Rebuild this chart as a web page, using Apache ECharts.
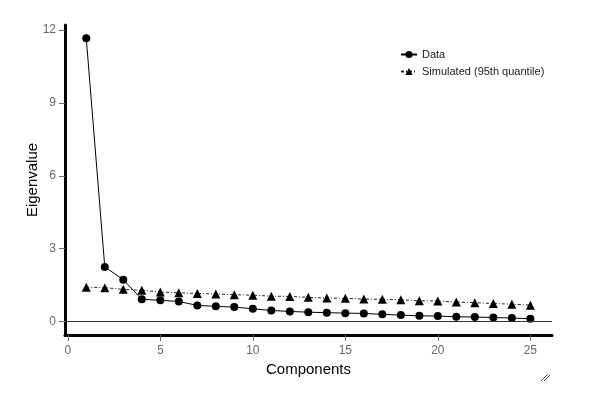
<!DOCTYPE html>
<html>
<head>
<meta charset="utf-8">
<title>Eigenvalue scree plot</title>
<script src="https://cdn.jsdelivr.net/npm/echarts@6/dist/echarts.min.js"></script>
<style>
  html, body { margin: 0; padding: 0; background: #fff; }
  #chart { width: 599px; height: 398px; }
</style>
</head>
<body>
<div id="chart"></div>
<script type="text/javascript">
// data
var components = [1,2,3,4,5,6,7,8,9,10,11,12,13,14,15,16,17,18,19,20,21,22,23,24,25];
var dataEigen = [11.66,2.24,1.72,0.91,0.87,0.82,0.66,0.62,0.59,0.52,0.45,0.41,0.38,0.36,0.34,0.33,0.29,0.26,0.23,0.22,0.19,0.18,0.16,0.14,0.11];
var simEigen = [1.41,1.39,1.32,1.28,1.21,1.18,1.15,1.13,1.10,1.08,1.04,1.03,0.99,0.96,0.95,0.92,0.91,0.89,0.85,0.84,0.80,0.77,0.74,0.71,0.67];
var xTicks = [0,5,10,15,20,25];
var yTicks = [0,3,6,9,12];

function pairs(ys) {
    return components.map(function (c, i) { return [c, ys[i]]; });
}

var myChart = echarts.init(document.getElementById('chart'));

var option = {
    animation: false,
    textStyle: { fontFamily: 'Liberation Sans, Arial, sans-serif' },
    grid: { left: 65, right: 47, top: 25, bottom: 63 },
    legend: {
        orient: 'vertical',
        left: 395,
        top: 44,
        itemWidth: 16,
        itemHeight: 9,
        itemGap: 6,
        textStyle: { fontSize: 11, color: '#222' },
        data: ['Data', 'Simulated (95th quantile)']
    },
    xAxis: {
        type: 'value',
        min: -0.15,
        max: 26.17,
        name: 'Components',
        nameLocation: 'middle',
        nameGap: 27,
        nameMoveOverlap: false,
        nameTextStyle: { fontSize: 15, color: '#000' },
        axisLine: { onZero: false, lineStyle: { color: '#000', width: 3 } },
        axisTick: { show: true, length: 6, customValues: xTicks, lineStyle: { color: '#666', width: 1 } },
        axisLabel: { customValues: xTicks, fontSize: 12, color: '#666', margin: 10 },
        splitLine: { show: false }
    },
    yAxis: {
        type: 'value',
        min: -0.56,
        max: 12.21,
        name: 'Eigenvalue',
        nameLocation: 'middle',
        nameGap: 25,
        nameMoveOverlap: false,
        nameTextStyle: { fontSize: 15, color: '#000' },
        axisLine: { show: true, onZero: false, lineStyle: { color: '#000', width: 3 } },
        axisTick: { show: true, length: 6, customValues: yTicks, lineStyle: { color: '#666', width: 1 } },
        axisLabel: { customValues: yTicks, fontSize: 12, color: '#666', margin: 9 },
        splitLine: { show: false }
    },
    series: [
        {
            name: 'Data',
            type: 'line',
            data: pairs(dataEigen),
            symbol: 'circle',
            symbolSize: 8,
            itemStyle: { color: '#000' },
            lineStyle: { color: '#000', width: 1 },
            markLine: {
                silent: true,
                symbol: 'none',
                label: { show: false },
                lineStyle: { color: '#333', width: 1, type: 'solid' },
                data: [{ yAxis: 0 }]
            },
            z: 3
        },
        {
            name: 'Simulated (95th quantile)',
            type: 'line',
            data: pairs(simEigen),
            symbol: 'triangle',
            symbolSize: 9,
            itemStyle: { color: '#000' },
            lineStyle: { color: '#222', width: 1, type: [3, 2, 1, 2] },
            z: 2
        }
    ],
    graphic: [
        { type: 'line', shape: { x1: 541, y1: 381, x2: 548, y2: 374 }, style: { stroke: '#555', lineWidth: 1 } },
        { type: 'line', shape: { x1: 544, y1: 381, x2: 550, y2: 375 }, style: { stroke: '#555', lineWidth: 1 } }
    ]
};
myChart.setOption(option);
</script>
</body>
</html>
